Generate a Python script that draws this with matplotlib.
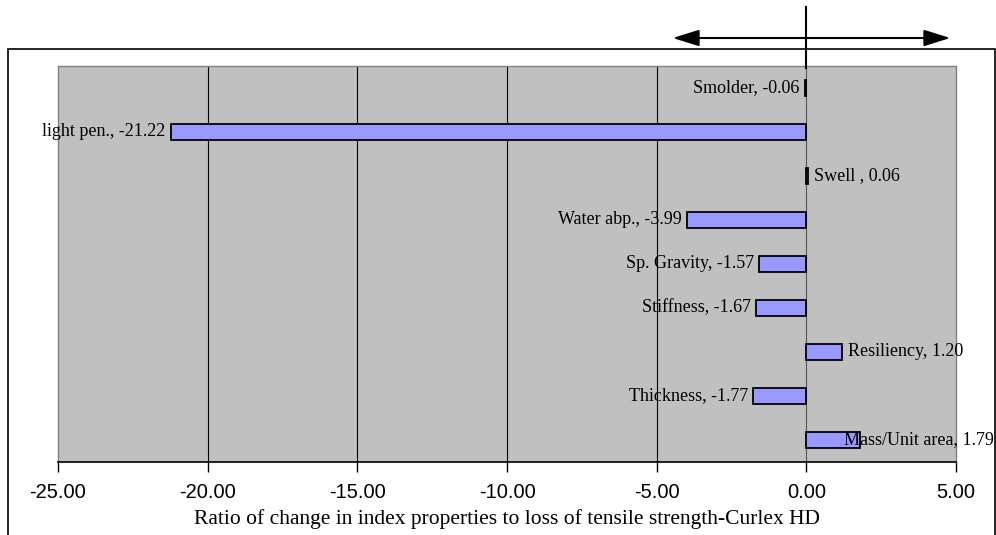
import matplotlib
matplotlib.use("Agg")
import matplotlib.pyplot as plt
from matplotlib.patches import Rectangle, FancyArrowPatch
from matplotlib.lines import Line2D

categories = ["Smolder", "light pen.", "Swell ", "Water abp.", "Sp. Gravity",
              "Stiffness", "Resiliency", "Thickness", "Mass/Unit area"]
values = [-0.06, -21.22, 0.06, -3.99, -1.57, -1.67, 1.20, -1.77, 1.79]
xticks = [-25, -20, -15, -10, -5, 0, 5]
xlabel = "Ratio of change in index properties to loss of tensile strength-Curlex HD"

W, H = 996, 535
fig = plt.figure(figsize=(W / 100, H / 100), dpi=100)
fig.patch.set_facecolor("white")

# outer chart border
fig.add_artist(Rectangle((8 / W, -0.05), (995 - 8) / W, (H - 49) / H + 0.05,
                         transform=fig.transFigure, fill=False,
                         edgecolor="black", linewidth=1.2))

ax = fig.add_axes([58 / W, 1 - 462 / H, (956 - 58) / W, (462 - 66) / H])
ax.set_facecolor("#C0C0C0")

n = len(categories)
ypos = list(range(n))
ax.barh(ypos, values, height=0.37, color="#9999FF", edgecolor="black",
        linewidth=1.3, zorder=3)
ax.set_ylim(n - 0.5, -0.5)
ax.set_xlim(-25, 5)

for x in [-20, -15, -10, -5]:
    ax.axvline(x, color="black", linewidth=0.8, zorder=1)
ax.axvline(0, color="#555555", linewidth=0.8, zorder=1)

serif = ["Liberation Serif", "DejaVu Serif"]
fs = 13
for i, (c, v) in enumerate(zip(categories, values)):
    txt = f"{c}, {v:.2f}"
    if c == "Mass/Unit area":
        ax.annotate(txt, xy=(1.0, i), xycoords=("axes fraction", "data"),
                    xytext=(27, 0), textcoords="offset points",
                    ha="right", va="center", fontsize=fs, family=serif, zorder=4)
    elif v < 0:
        ax.annotate(txt, xy=(v, i), xytext=(-4, 0), textcoords="offset points",
                    ha="right", va="center", fontsize=fs, family=serif, zorder=4)
    else:
        ax.annotate(txt, xy=(v, i), xytext=(4, 0), textcoords="offset points",
                    ha="left", va="center", fontsize=fs, family=serif, zorder=4)

ax.set_yticks([])
ax.set_xticks(xticks)
ax.set_xticklabels([f"{t:.2f}" for t in xticks], family=["Liberation Sans", "DejaVu Sans"],
                   fontsize=14.5)
ax.tick_params(axis="x", direction="out", length=7, width=1, color="black", pad=8)
for s in ["left", "top", "right"]:
    ax.spines[s].set_color("#808080")
    ax.spines[s].set_linewidth(1)
ax.spines["bottom"].set_color("black")
ax.spines["bottom"].set_linewidth(1.2)
ax.set_xlabel(xlabel, family=serif, fontsize=15.5, labelpad=5)

# direction arrow and vertical marker
arrow = FancyArrowPatch((670 / W, 1 - 38 / H), (953 / W, 1 - 38 / H),
                        transform=fig.transFigure,
                        arrowstyle="<|-|>,head_length=1.15,head_width=0.36",
                        mutation_scale=14, color="black", linewidth=1.5)
fig.add_artist(arrow)
fig.add_artist(Line2D([806 / W, 806 / W], [1 - 7 / H, 1 - 68 / H],
                      transform=fig.transFigure, color="black", linewidth=1.5))

fig.savefig("out.png", dpi=100)
